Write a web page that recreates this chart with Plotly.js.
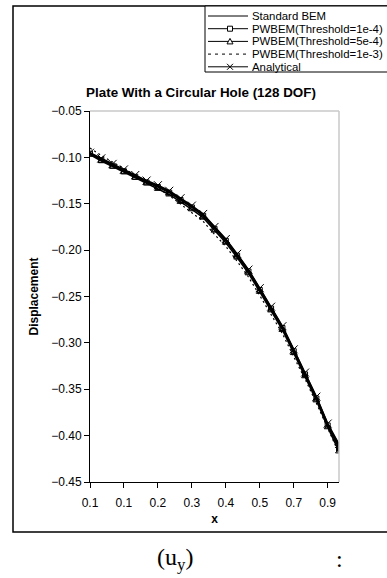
<!DOCTYPE html>
<html>
<head>
<meta charset="utf-8">
<script src="https://cdn.plot.ly/plotly-3.0.1.min.js"></script>
<style>
html,body{margin:0;padding:0;background:#fff;}
#chart{width:387px;height:578px;}
</style>
</head>
<body>
<div id="chart"></div>
<script>
// category index of each node along the edge
var nodeIndex = [0,1,2,3,4,5,6,7,8,9,10,11,12,13,14,15,16,17,18,19,20,21,22];
var tickPositions = [0,3,6,9,12,15,18,21];
var tickLabels = ['0.1','0.1','0.2','0.3','0.4','0.5','0.7','0.9'];
var yTicks = [-0.45,-0.40,-0.35,-0.30,-0.25,-0.20,-0.15,-0.10,-0.05];
var seriesNames = ['Standard BEM','PWBEM(Threshold=1e-4)','PWBEM(Threshold=5e-4)','PWBEM(Threshold=1e-3)','Analytical'];

var standardBEM = [-0.096,-0.102,-0.108,-0.114,-0.120,-0.126,-0.131,-0.137,-0.145,-0.153,-0.162,-0.176,-0.189,-0.205,-0.222,-0.242,-0.262,-0.283,-0.308,-0.333,-0.359,-0.388,-0.411];
var pwbem1e4 = [-0.096,-0.103,-0.109,-0.115,-0.121,-0.127,-0.132,-0.138,-0.146,-0.154,-0.163,-0.177,-0.190,-0.206,-0.223,-0.243,-0.263,-0.284,-0.309,-0.334,-0.360,-0.389,-0.414];
var pwbem5e4 = [-0.097,-0.104,-0.110,-0.116,-0.122,-0.128,-0.134,-0.140,-0.148,-0.156,-0.165,-0.179,-0.192,-0.208,-0.225,-0.245,-0.265,-0.286,-0.311,-0.336,-0.362,-0.391,-0.417];
var pwbem1e3 = [-0.090,-0.098,-0.105,-0.112,-0.119,-0.126,-0.133,-0.141,-0.150,-0.159,-0.169,-0.183,-0.196,-0.212,-0.229,-0.249,-0.269,-0.290,-0.315,-0.339,-0.365,-0.393,-0.419];
var analytical = [-0.095,-0.101,-0.107,-0.113,-0.119,-0.125,-0.130,-0.136,-0.144,-0.152,-0.161,-0.175,-0.188,-0.204,-0.221,-0.241,-0.261,-0.282,-0.307,-0.332,-0.358,-0.387,-0.409];

var traces = [
  {x: nodeIndex, y: pwbem1e3, name: seriesNames[3], mode: 'lines',
   line: {color: '#000', width: 1.2, dash: '2px,3px'}},
  {x: nodeIndex, y: standardBEM, name: seriesNames[0], mode: 'lines',
   line: {color: '#000', width: 2}},
  {x: nodeIndex, y: pwbem1e4, name: seriesNames[1], mode: 'lines+markers',
   line: {color: '#000', width: 1.5},
   marker: {symbol: 'square-open', size: 5, color: '#000', line: {width: 1}}},
  {x: nodeIndex, y: pwbem5e4, name: seriesNames[2], mode: 'lines+markers',
   line: {color: '#000', width: 1.5},
   marker: {symbol: 'triangle-up-open', size: 6, color: '#000', line: {width: 1}}},
  {x: nodeIndex, y: analytical, name: seriesNames[4], mode: 'lines+markers',
   line: {color: '#000', width: 1.5},
   marker: {symbol: 'x-thin-open', size: 8, color: '#000', line: {width: 1, color: '#000'}}}
];

var L = 90, R = 339, T = 111, B = 482;
function px(v){ return (v - L) / (R - L); }
function py(v){ return (B - v) / (B - T); }

var shapes = [
  {type: 'line', xref: 'paper', yref: 'paper', x0: 0, x1: 1, y0: 1, y1: 1, line: {color: '#c8c8c8', width: 1.5}},
  {type: 'line', xref: 'paper', yref: 'paper', x0: 1, x1: 1, y0: 0, y1: 1, line: {color: '#c8c8c8', width: 1.5}},
  {type: 'rect', xref: 'paper', yref: 'paper', x0: px(13), x1: px(395), y0: py(532), y1: py(6),
   line: {color: '#000', width: 1.5}, layer: 'below'},
  // legend box
  {type: 'rect', xref: 'paper', yref: 'paper', x0: px(205), x1: px(395), y0: py(72), y1: py(6),
   line: {color: '#000', width: 1}, fillcolor: '#fff', layer: 'above'}
];
var annotations = [
  {xref: 'paper', yref: 'paper', x: px(175), y: py(559), xanchor: 'center', yanchor: 'middle',
   text: '(u<sub>y</sub>)', showarrow: false,
   font: {family: 'Liberation Serif, Times New Roman, serif', size: 24, color: '#000'}},
  {xref: 'paper', yref: 'paper', x: px(339), y: py(559), xanchor: 'center', yanchor: 'middle',
   text: ':', showarrow: false,
   font: {family: 'Liberation Serif, Times New Roman, serif', size: 24, color: '#000'}}
];

// manual legend (Excel-like compact rows)
var rowY = [16, 28.7, 41.4, 54.1, 66.8];
var legendDash = ['solid', 'solid', 'solid', '3px,4px', 'solid'];
var legendMarker = ['none', 'square', 'triangle', 'none', 'x'];
for (var i = 0; i < seriesNames.length; i++) {
  var yy = py(rowY[i]);
  shapes.push({type: 'line', xref: 'paper', yref: 'paper', x0: px(208), x1: px(248), y0: yy, y1: yy,
               line: {color: '#000', width: 1, dash: legendDash[i]}});
  var cx = 230, cy = rowY[i];
  if (legendMarker[i] === 'square') {
    shapes.push({type: 'rect', xref: 'paper', yref: 'paper', x0: px(cx - 2.5), x1: px(cx + 2.5),
                 y0: py(cy + 2.5), y1: py(cy - 2.5), line: {color: '#000', width: 1}, fillcolor: '#fff'});
  } else if (legendMarker[i] === 'triangle') {
    shapes.push({type: 'path', xref: 'paper', yref: 'paper',
                 path: 'M' + px(cx - 3) + ',' + py(cy + 2.5) + ' L' + px(cx + 3) + ',' + py(cy + 2.5) +
                       ' L' + px(cx) + ',' + py(cy - 3) + ' Z',
                 line: {color: '#000', width: 1}, fillcolor: '#fff'});
  } else if (legendMarker[i] === 'x') {
    shapes.push({type: 'path', xref: 'paper', yref: 'paper',
                 path: 'M' + px(cx - 3) + ',' + py(cy - 3) + ' L' + px(cx + 3) + ',' + py(cy + 3) +
                       ' M' + px(cx - 3) + ',' + py(cy + 3) + ' L' + px(cx + 3) + ',' + py(cy - 3),
                 line: {color: '#000', width: 1}});
  }
  annotations.push({xref: 'paper', yref: 'paper', x: px(250), y: yy, xanchor: 'left', yanchor: 'middle',
                    text: seriesNames[i], showarrow: false,
                    font: {family: 'Arial, Liberation Sans, sans-serif', size: 11.4, color: '#000'}});
}

var layout = {
  width: 387, height: 578,
  margin: {l: L, r: 387 - R, t: T, b: 578 - B, autoexpand: false},
  paper_bgcolor: '#fff', plot_bgcolor: '#fff',
  font: {family: 'Arial, Liberation Sans, sans-serif', size: 12, color: '#000'},
  title: {text: '<b>Plate With a Circular Hole (128 DOF)</b>', font: {size: 13.4, color: '#000'},
          x: px(201), xref: 'paper', xanchor: 'center', y: 1 - 92/578, yref: 'container', yanchor: 'middle'},
  showlegend: false,
  xaxis: {range: [0, 22], tickvals: tickPositions, ticktext: tickLabels,
          showgrid: false, zeroline: false, showline: true, linecolor: '#000', linewidth: 1,
          ticks: 'outside', ticklen: 5, tickcolor: '#000', ticklabelstandoff: 5,
          title: {text: '<b>x</b>', font: {size: 12}, standoff: 5}},
  yaxis: {range: [-0.45, -0.05], tickvals: yTicks, tickformat: '.2f',
          showgrid: false, zeroline: false, showline: true, linecolor: '#000', linewidth: 1,
          ticks: 'outside', ticklen: 5, tickcolor: '#000',
          title: {text: '<b>Displacement</b>', font: {size: 12}, standoff: 10}},
  shapes: shapes,
  annotations: annotations
};

Plotly.newPlot('chart', traces, layout, {staticPlot: true, displayModeBar: false});
</script>
</body>
</html>
